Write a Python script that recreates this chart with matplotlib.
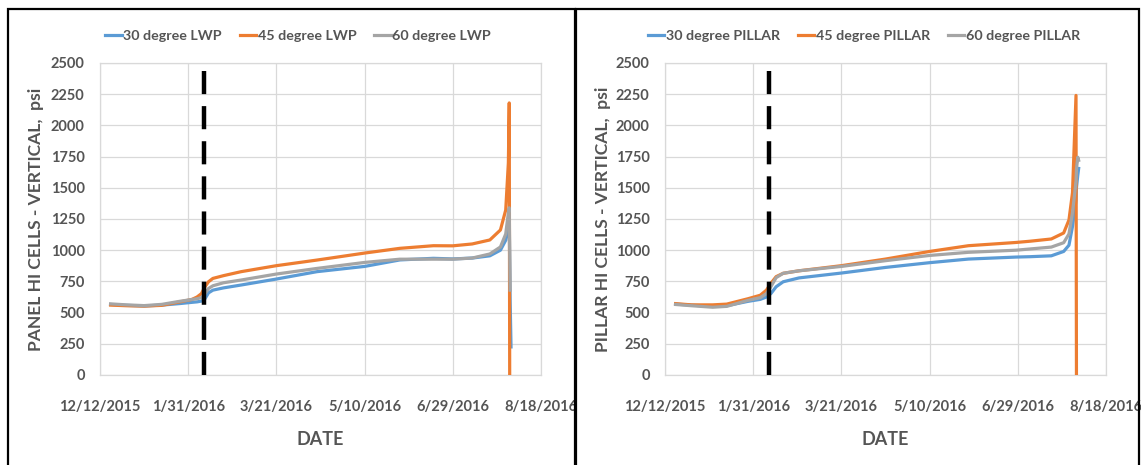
import matplotlib
matplotlib.use('Agg')
import matplotlib.pyplot as plt
import matplotlib.patches as patches
import numpy as np
import pandas as pd

plt.rcParams['font.family'] = ['Lato', 'DejaVu Sans']
plt.rcParams['font.weight'] = 'bold'

txt = '#555555'
c_blue, c_orange, c_gray = '#5B9BD5', '#ED7D31', '#A5A5A5'

x_ticks = ['2015-12-12', '2016-01-31', '2016-03-21', '2016-05-10', '2016-06-29', '2016-08-18']
x_ticklabels = ['12/12/2015', '1/31/2016', '3/21/2016', '5/10/2016', '6/29/2016', '8/18/2016']
y_ticks = [0, 250, 500, 750, 1000, 1250, 1500, 1750, 2000, 2250, 2500]
event_date = '2016-02-09'
event_top = 2440

# ---- panel (LWP) ----
lwp_dates = ['2015-12-18', '2015-12-27', '2016-01-06', '2016-01-16', '2016-01-26',
             '2016-02-02', '2016-02-05', '2016-02-07 12:00', '2016-02-09 12:00',
             '2016-02-11 12:00', '2016-02-14', '2016-02-20', '2016-03-01', '2016-03-21',
             '2016-04-13', '2016-05-10', '2016-05-30', '2016-06-18', '2016-06-29',
             '2016-07-10', '2016-07-20', '2016-07-26', '2016-07-29', '2016-07-30 12:00',
             '2016-07-31', '2016-07-31 06:00', '2016-07-31 12:00', '2016-08-01']
lwp_30 = [565, 558, 553, 560, 572, 582, 586, 592, 611, 658, 680, 698, 721, 769,
          828, 870, 922, 935, 930, 937, 955, 1000, 1080, 1200, 1250, 900, 600, 225]
lwp_45 = [560, 555, 552, 558, 585, 605, 625, 652, 707, 747, 774, 796, 828, 876,
          921, 977, 1015, 1036, 1035, 1050, 1082, 1162, 1322, 1700, 2180, 0, np.nan, np.nan]
lwp_60 = [570, 562, 556, 566, 590, 605, 611, 620, 652, 693, 715, 739, 761, 809,
          854, 902, 928, 928, 928, 937, 970, 1026, 1130, 1300, 1340, 1000, 680, np.nan]

# ---- panel (PILLAR) ----
pil_dates = ['2015-12-18', '2015-12-27', '2016-01-08', '2016-01-16', '2016-01-28',
             '2016-02-04', '2016-02-07 12:00', '2016-02-10', '2016-02-13', '2016-02-17',
             '2016-02-26', '2016-03-21', '2016-04-15', '2016-05-10', '2016-06-01',
             '2016-06-28', '2016-07-06', '2016-07-18', '2016-07-25', '2016-07-28',
             '2016-07-30', '2016-08-01', '2016-08-01 06:00', '2016-08-02',
             '2016-08-02 12:00']
pil_30 = [568, 560, 550, 555, 590, 606, 625, 652, 707, 747, 778, 817, 862, 900,
          929, 945, 948, 955, 990, 1040, 1190, 1400, 1500, 1600, 1655]
pil_45 = [572, 562, 562, 568, 611, 639, 680, 734, 788, 815, 835, 876, 929, 990,
          1036, 1062, 1072, 1090, 1138, 1242, 1460, 2240, 0, np.nan, np.nan]
pil_60 = [565, 555, 543, 550, 598, 620, 652, 707, 780, 815, 835, 870, 916, 958,
          983, 1000, 1010, 1025, 1060, 1130, 1300, 1550, 1650, 1745, 1720]

W, H = 1141, 465
fig = plt.figure(figsize=(W / 100, H / 100), dpi=100)

def to_dt(lst):
    return pd.to_datetime(lst, format='ISO8601')

def draw(ax, dates, s30, s45, s60, names, ylabel, legend_x, ylabel_x):
    d = to_dt(dates)
    ax.plot(d, s30, color=c_blue, lw=2.3, label=names[0], zorder=3)
    ax.plot(d, s45, color=c_orange, lw=2.3, label=names[1], zorder=3)
    ax.plot(d, s60, color=c_gray, lw=2.3, label=names[2], zorder=3)
    ax.vlines(pd.Timestamp(event_date), 0, event_top, color='black', lw=3.2,
              linestyles=(0, (5.2, 2.7)), zorder=4)
    xt = to_dt(x_ticks)
    ax.set_xlim(xt[0], xt[-1])
    ax.set_ylim(0, 2500)
    ax.set_xticks(xt)
    ax.set_xticklabels(x_ticklabels)
    ax.set_yticks(y_ticks)
    ax.grid(True, color='#D9D9D9', lw=0.9, zorder=0)
    ax.set_axisbelow(True)
    for sp in ax.spines.values():
        sp.set_color('#D9D9D9')
        sp.set_linewidth(0.9)
    ax.tick_params(axis='both', length=0, labelcolor=txt, labelsize=10.5)
    ax.tick_params(axis='x', pad=18)
    ax.tick_params(axis='y', pad=11)
    for lab in ax.get_xticklabels() + ax.get_yticklabels():
        lab.set_fontweight('bold')
    pos = ax.get_position()
    fig.text(ylabel_x / W, pos.y0 + pos.height / 2, ylabel, rotation=90,
             ha='center', va='center', color=txt, fontsize=12.6, fontweight='bold')
    fig.text(pos.x0 + pos.width / 2, 1 - 439 / H, 'DATE', ha='center', va='center',
             color=txt, fontsize=13, fontweight='bold')
    fig.legend(loc='center', bbox_to_anchor=(legend_x / W, 1 - 36 / H), ncol=3,
               frameon=False, handlelength=1.15, handletextpad=0.1, columnspacing=1.25,
               prop={'size': 10.3, 'weight': 'bold'}, labelcolor=txt,
               handles=ax.get_lines()[:3])

ax1 = fig.add_axes([100 / W, 1 - 375 / H, 441 / W, 312 / H])
ax2 = fig.add_axes([665 / W, 1 - 375 / H, 441 / W, 312 / H])
draw(ax1, lwp_dates, lwp_30, lwp_45, lwp_60,
     ['30 degree LWP', '45 degree LWP', '60 degree LWP'],
     'PANEL HI CELLS - VERTICAL,  psi', 298, 36)
draw(ax2, pil_dates, pil_30, pil_45, pil_60,
     ['30 degree PILLAR', '45 degree PILLAR', '60 degree PILLAR'],
     'PILLAR HI CELLS - VERTICAL,  psi', 864, 603)

# panel frames
for x0, x1 in [(8, 575), (576, 1139)]:
    fig.add_artist(patches.Rectangle((x0 / W, -0.1), (x1 - x0) / W, 1.1 - 9 / H,
                                     transform=fig.transFigure, fill=False,
                                     edgecolor='black', lw=1.6))

fig.savefig('out.png', dpi=100)
